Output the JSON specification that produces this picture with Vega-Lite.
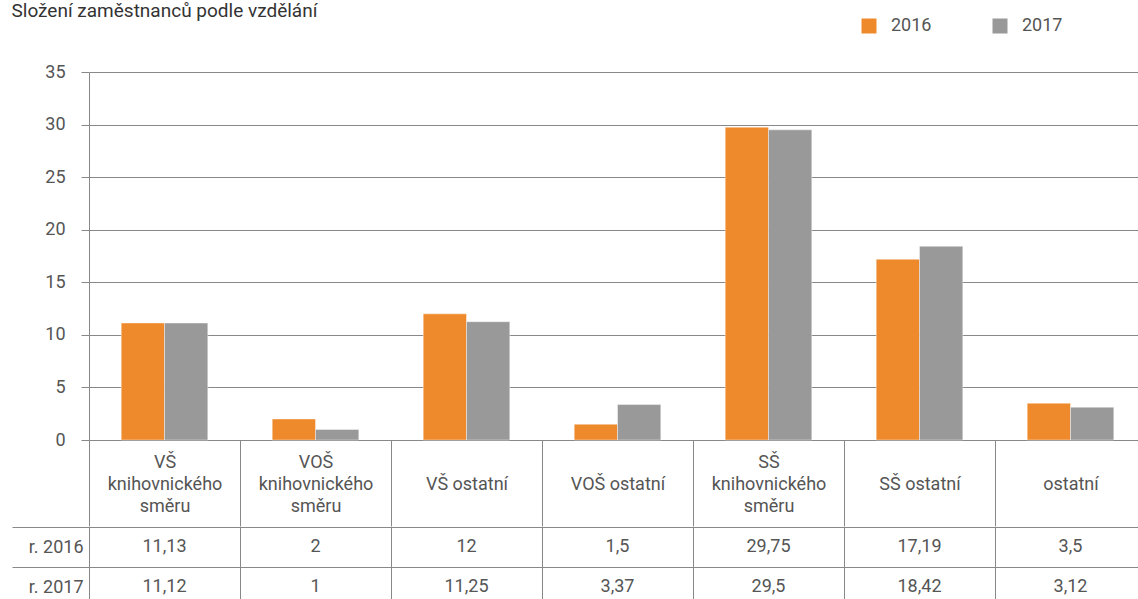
{
  "$schema": "https://vega.github.io/schema/vega-lite/v6.json",
  "padding": {"left": 11, "top": 2, "right": 0, "bottom": 0},
  "autosize": {"type": "pad"},
  "title": {"text": "Složení zaměstnanců podle vzdělání", "anchor": "start", "frame": "bounds", "fontSize": 19, "fontWeight": "normal", "color": "#333333", "font": "Roboto", "offset": -4},
  "config": {
    "font": "Roboto",
    "view": {"stroke": null},
    "locale": {"number": {"decimal": ",", "thousands": " ", "grouping": [3], "currency": ["", " Kč"]}}
  },
  "datasets": {
    "d": [
      {"kat": "VŠ knihovnického směru", "rok": "2016", "radek": "r. 2016", "hodnota": 11.13},
      {"kat": "VŠ knihovnického směru", "rok": "2017", "radek": "r. 2017", "hodnota": 11.12},
      {"kat": "VOŠ knihovnického směru", "rok": "2016", "radek": "r. 2016", "hodnota": 2},
      {"kat": "VOŠ knihovnického směru", "rok": "2017", "radek": "r. 2017", "hodnota": 1},
      {"kat": "VŠ ostatní", "rok": "2016", "radek": "r. 2016", "hodnota": 12},
      {"kat": "VŠ ostatní", "rok": "2017", "radek": "r. 2017", "hodnota": 11.25},
      {"kat": "VOŠ ostatní", "rok": "2016", "radek": "r. 2016", "hodnota": 1.5},
      {"kat": "VOŠ ostatní", "rok": "2017", "radek": "r. 2017", "hodnota": 3.37},
      {"kat": "SŠ knihovnického směru", "rok": "2016", "radek": "r. 2016", "hodnota": 29.75},
      {"kat": "SŠ knihovnického směru", "rok": "2017", "radek": "r. 2017", "hodnota": 29.5},
      {"kat": "SŠ ostatní", "rok": "2016", "radek": "r. 2016", "hodnota": 17.19},
      {"kat": "SŠ ostatní", "rok": "2017", "radek": "r. 2017", "hodnota": 18.42},
      {"kat": "ostatní", "rok": "2016", "radek": "r. 2016", "hodnota": 3.5},
      {"kat": "ostatní", "rok": "2017", "radek": "r. 2017", "hodnota": 3.12}
    ]
  },
  "spacing": -10,
  "vconcat": [
    {
      "width": 1057,
      "height": 368,
      "data": {"name": "d"},
      "mark": {"type": "bar", "stroke": "#ffffff", "strokeWidth": 0.8, "strokeOpacity": 0.5},
      "encoding": {
        "x": {
          "field": "kat", "type": "nominal", "sort": null,
          "scale": {"paddingInner": 0, "paddingOuter": 0},
          "axis": {
            "title": null, "orient": "bottom", "domain": false, "grid": false,
            "ticks": true, "tickBand": "extent", "tickSize": 86, "tickColor": "#888888",
            "labelAngle": 0, "labelFontSize": 18, "labelColor": "#555555",
            "labelBaseline": "top", "labelPadding": -73, "labelLineHeight": 22,
            "labelExpr": "indexof(datum.label, ' knihovnického ') >= 0 ? split(replace(datum.label, ' knihovnického ', '|knihovnického|'), '|') : ['', datum.label]"
          }
        },
        "xOffset": {"field": "rok", "type": "nominal", "scale": {"paddingInner": 0, "paddingOuter": 0.744}},
        "y": {
          "field": "hodnota", "type": "quantitative",
          "scale": {"domain": [0, 35], "nice": false},
          "axis": {
            "title": null, "values": [0, 5, 10, 15, 20, 25, 30, 35],
            "grid": true, "gridColor": "#888888", "domainColor": "#888888",
            "tickColor": "#888888", "tickSize": 8,
            "labelFontSize": 18, "labelColor": "#555555", "labelPadding": 16
          }
        },
        "color": {
          "field": "rok", "type": "nominal",
          "scale": {"range": ["#EF8A2C", "#999999"]},
          "legend": {
            "title": null, "orient": "none", "direction": "horizontal",
            "legendX": 771, "legendY": -55, "padding": 0,
            "symbolType": "square", "symbolSize": 225, "symbolStrokeWidth": 0,
            "labelFontSize": 18, "labelColor": "#555555", "labelOffset": 13,
            "columnPadding": 59
          }
        }
      }
    },
    {
      "width": 1057,
      "height": 80,
      "data": {"name": "d"},
      "mark": {"type": "text", "fontSize": 18, "color": "#555555"},
      "encoding": {
        "x": {
          "field": "kat", "type": "nominal", "sort": null,
          "scale": {"paddingInner": 0, "paddingOuter": 0},
          "axis": {"title": null, "labels": false, "ticks": false, "domain": false, "grid": true, "tickBand": "extent", "gridColor": "#888888"}
        },
        "y": {
          "field": "radek", "type": "nominal",
          "scale": {"paddingInner": 0, "paddingOuter": 0},
          "axis": {
            "title": null, "domain": true, "domainColor": "#888888",
            "ticks": true, "tickBand": "extent", "tickSize": 77, "tickColor": "#888888",
            "grid": true, "gridColor": "#888888",
            "labelFontSize": 18, "labelColor": "#555555", "labelPadding": -71
          }
        },
        "text": {"field": "hodnota", "type": "quantitative", "format": "~g"}
      }
    }
  ]
}
